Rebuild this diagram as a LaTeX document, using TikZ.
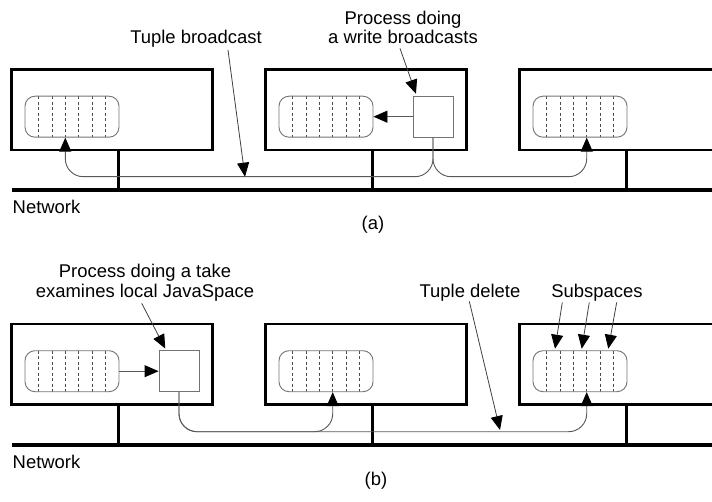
\documentclass[tikz,border=0pt]{standalone}
\usepackage{fontspec}
\setmainfont{Liberation Sans}
\usetikzlibrary{arrows.meta,positioning}

\begin{document}
\begin{tikzpicture}[
    x=1bp, y=-1bp,
    node distance=254bp,
    >={Triangle[length=14bp,width=12bp,color=black]},
    every node/.style={font=\fontsize{18.5}{20}\selectfont, inner sep=0pt},
    machine/.style={rectangle, draw, line width=2.6bp, minimum width=200.6bp, minimum height=80.7bp},
    space/.style={rectangle, rounded corners=10bp, draw=black!55, line width=0.9bp,
        minimum width=94bp, minimum height=41bp,
        path picture={\foreach \dx in {-33.5,-20.1,-6.7,6.7,20.1,33.5}
            \draw[black!70, line width=0.8bp, dash pattern=on 3bp off 2.5bp]
                ([xshift=\dx bp]path picture bounding box.north) --
                ([xshift=\dx bp]path picture bounding box.south);}},
    proc/.style={rectangle, draw=black!55, line width=0.9bp, minimum width=40bp, minimum height=41bp},
    wire/.style={line width=0.9bp, black!65, rounded corners=18bp},
    pointer/.style={line width=0.8bp, black!75},
    net/.style={line width=3.6bp},
    stub/.style={line width=3bp}
]
    \clip (0,0) rectangle (712,502);

    % (a) write
    \node[machine] (m1) at (112,109.7) {};
    \node[machine, right of=m1] (m2) {};
    \node[machine, right of=m2] (m3) {};

    \node[space] (s1) at ([shift={(-40,7)}]m1.center) {};
    \node[space] (s2) at ([shift={(-40,7)}]m2.center) {};
    \node[space] (s3) at ([shift={(-40,7)}]m3.center) {};
    \node[proc] (p1) at ([shift={(67,7)}]m2.center) {};

    \coordinate (netA) at (12,190);
    \coordinate (busA) at (0,176.7);
    \draw[net] (netA) -- ++(710,0);
    \foreach \m in {m1,m2,m3}
        \draw[stub] ([xshift=6.5bp]\m.south) -- ([xshift=6.5bp]\m.south |- netA);

    \draw[wire,->] (p1) -- (s2);
    \coordinate (t1) at ([xshift=-6.7bp]s1.south);
    \coordinate (t3) at ([xshift=6.7bp]s3.south);
    \draw[wire,->] (p1.south) |- (t1 |- busA) -- (t1);
    \draw[wire,->] (p1.south) |- (t3 |- busA) -- (t3);

    \node[anchor=base] (tb) at (196,44) {Tuple broadcast};
    \node[anchor=base, align=center] (pw) at (403,44) {Process doing\\a write broadcasts};
    \coordinate (tbtip) at (245,176.7);
    \draw[pointer,->] ([shift={(32,2)}]tb.south) -- (tbtip);
    \draw[pointer,->] ([shift={(-3,4)}]pw.south) -- ([shift={(3.4,-2)}]p1.north west);

    \node[anchor=base west] (netlabA) at (12.5,213.3) {Network};
    \node[anchor=base] (capA) at (373,229.4) {(a)};

    % (b) take
    \node[machine] (n1) at (112,364.2) {};
    \node[machine, right of=n1] (n2) {};
    \node[machine, right of=n2] (n3) {};

    \node[space] (r1) at ([shift={(-40,7)}]n1.center) {};
    \node[space] (r2) at ([shift={(-40,7)}]n2.center) {};
    \node[space] (r3) at ([shift={(-40,7)}]n3.center) {};
    \node[proc] (p2) at ([shift={(67,7)}]n1.center) {};

    \coordinate (netB) at (12,445);
    \coordinate (busB) at (0,431.7);
    \draw[net] (netB) -- ++(710,0);
    \foreach \m in {n1,n2,n3}
        \draw[stub] ([xshift=6.5bp]\m.south) -- ([xshift=6.5bp]\m.south |- netB);

    \draw[wire,->] (r1) -- (p2);
    \coordinate (u2) at ([xshift=6.7bp]r2.south);
    \coordinate (u3) at ([xshift=6.7bp]r3.south);
    \draw[wire,->] (p2.south) |- (u2 |- busB) -- (u2);
    \draw[wire,->] (p2.south) |- (u3 |- busB) -- (u3);

    \node[anchor=base, align=center] (pt) at (145,297.3) {Process doing a take\\examines local JavaSpace};
    \node[anchor=base] (td) at (470,297.3) {Tuple delete};
    \node[anchor=base] (sub) at (597,297.3) {Subspaces};
    \coordinate (tdtip) at (500,430);
    \draw[pointer,->] ([shift={(-3.3,2)}]pt.south) -- ([shift={(6.7,-1.7)}]p2.north west);
    \draw[pointer,->] ([shift={(-0.7,0)}]td.south) -- (tdtip);
    \foreach \a/\b in {-34.7/-25, -7.7/1.7, 19.7/28.3}
        \draw[pointer,->] ([shift={(\a,1)}]sub.south) -- ([shift={(\b,-1.5)}]r3.north);

    \node[anchor=base west] (netlabB) at (12.5,468.3) {Network};
    \node[anchor=base] (capB) at (376,485.5) {(b)};
\end{tikzpicture}
\end{document}
